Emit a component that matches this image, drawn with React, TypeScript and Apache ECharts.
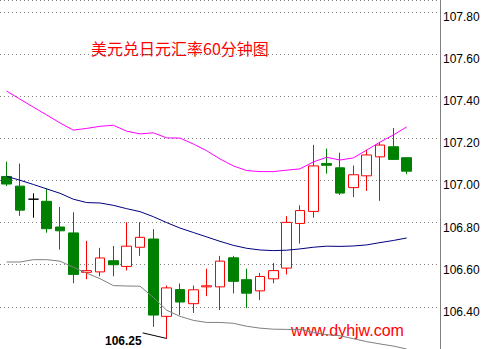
import React, { useEffect, useRef } from 'react';
import * as echarts from 'echarts';

// 31 hourly candles plus two empty slots on the right
const categories = ['K01','K02','K03','K04','K05','K06','K07','K08','K09','K10','K11','K12','K13','K14','K15','K16','K17','K18','K19','K20','K21','K22','K23','K24','K25','K26','K27','K28','K29','K30','K31','',' '];

const opens = [107.019, 106.973, 106.911, 106.901, 106.779, 106.751, 106.564, 106.566, 106.619, 106.592, 106.683, 106.722, 106.355, 106.482, 106.415, 106.495, 106.495, 106.633, 106.529, 106.476, 106.533, 106.584, 106.796, 106.853, 107.080, 107.060, 106.966, 107.022, 107.112, 107.160, 107.108];
const closes = [106.983, 106.859, 106.911, 106.771, 106.761, 106.554, 106.572, 106.632, 106.600, 106.688, 106.730, 106.361, 106.490, 106.423, 106.481, 106.500, 106.617, 106.521, 106.465, 106.544, 106.572, 106.801, 106.857, 107.069, 107.072, 106.940, 107.027, 107.121, 107.168, 107.100, 107.044];
const lows = [106.973, 106.832, 106.823, 106.752, 106.672, 106.512, 106.531, 106.545, 106.545, 106.573, 106.642, 106.305, 106.250, 106.361, 106.371, 106.451, 106.385, 106.464, 106.394, 106.432, 106.512, 106.554, 106.700, 106.823, 107.032, 106.931, 106.921, 106.950, 106.903, 107.100, 107.030];
const highs = [107.089, 107.080, 106.939, 106.961, 106.874, 106.849, 106.713, 106.680, 106.689, 106.802, 106.802, 106.769, 106.501, 106.511, 106.501, 106.581, 106.642, 106.642, 106.581, 106.561, 106.608, 106.831, 106.882, 107.169, 107.151, 107.132, 107.071, 107.146, 107.179, 107.249, 107.108];

const maMagenta = [107.424, 107.386, 107.348, 107.311, 107.273, 107.239, 107.247, 107.257, 107.262, 107.234, 107.221, 107.226, 107.202, 107.201, 107.173, 107.141, 107.102, 107.069, 107.047, 107.042, 107.042, 107.049, 107.055, 107.088, 107.110, 107.097, 107.107, 107.144, 107.182, 107.216, 107.254];
const maNavy = [107.019, 107.001, 106.981, 106.960, 106.939, 106.911, 106.895, 106.893, 106.882, 106.866, 106.852, 106.828, 106.800, 106.774, 106.753, 106.732, 106.711, 106.692, 106.678, 106.670, 106.667, 106.669, 106.675, 106.683, 106.688, 106.687, 106.689, 106.694, 106.705, 106.715, 106.727];
const maGray = [106.613, 106.613, 106.624, 106.624, 106.617, 106.588, 106.560, 106.534, 106.501, 106.499, 106.498, 106.445, 106.384, 106.355, 106.336, 106.326, 106.326, 106.322, 106.308, 106.299, 106.294, 106.293, 106.293, 106.278, 106.268, 106.263, 106.249, 106.235, 106.224, 106.214, 106.200];

const yTickLabels = ['106.40', '106.60', '106.80', '107.00', '107.20', '107.40', '107.60', '107.80'];

const titleText = '美元兑日元汇率60分钟图';
const watermarkText = 'www.dyhjw.com';

export default function App() {
  const ref = useRef<HTMLDivElement>(null);

  useEffect(() => {
    if (!ref.current) return;
    const chart = echarts.init(ref.current, null, { renderer: 'svg' });

    const candleData = opens.map((o, i) => {
      const v = [o, closes[i], lows[i], highs[i]];
      if (o === closes[i]) {
        return {
          value: v,
          itemStyle: { color: '#000', color0: '#000', borderColor: '#000', borderColor0: '#000' },
        };
      }
      return v;
    });

    const lineSeries = (data: number[], color: string) => ({
      type: 'line',
      data,
      showSymbol: false,
      symbol: 'none',
      z: 5,
      lineStyle: { color, width: 1 },
      silent: true,
    });

    chart.setOption({
      animation: false,
      backgroundColor: '#ffffff',
      grid: { left: -1.7, right: 44, top: -2, bottom: -1, containLabel: false },
      xAxis: {
        type: 'category',
        data: categories,
        boundaryGap: true,
        axisLine: { show: false },
        axisTick: { show: false },
        axisLabel: { show: false },
        splitLine: { show: false },
      },
      yAxis: {
        type: 'value',
        position: 'right',
        min: 106.2,
        max: 107.8565,
        interval: 0.2,
        axisLine: { show: true, lineStyle: { color: '#808080', width: 1 } },
        axisTick: { show: false },
        splitLine: { show: true, lineStyle: { color: '#808080', type: [1, 3], width: 1 } },
        axisLabel: {
          color: '#000',
          fontSize: 12,
          fontFamily: 'Liberation Sans, Arial, sans-serif',
          margin: 3,
          verticalAlign: 'top',
          padding: [-1, 0, 0, 0],
          formatter: (v: number) => {
            const s = v.toFixed(2);
            return yTickLabels.indexOf(s) >= 0 ? s : '';
          },
        },
      },
      series: [
        {
          type: 'candlestick',
          data: candleData,
          barWidth: 10,
          z: 3,
          itemStyle: {
            color: '#ffffff',
            color0: '#008000',
            borderColor: '#ff0000',
            borderColor0: '#008000',
            borderWidth: 1,
          },
        },
        lineSeries(maMagenta, '#ff00ff'),
        lineSeries(maNavy, '#000080'),
        lineSeries(maGray, '#808080'),
      ],
      graphic: [
        {
          id: 'title',
          type: 'text',
          x: 91,
          y: 48,
          style: {
            text: titleText,
            fill: '#ff0000',
            font: '16px "Noto Sans CJK SC", sans-serif',
            verticalAlign: 'middle',
          },
        },
        {
          id: 'watermark',
          type: 'text',
          x: 291,
          y: 330,
          style: {
            text: watermarkText,
            fill: '#ff0000',
            font: '16px "Liberation Sans", Arial, sans-serif',
            verticalAlign: 'middle',
          },
        },
      ],
    });

    // low-point annotation derived from the data
    let lowIdx = 0;
    lows.forEach((l, i) => {
      if (l < lows[lowIdx]) lowIdx = i;
    });
    const lowVal = lows[lowIdx];
    const p = chart.convertToPixel({ gridIndex: 0 }, [lowIdx, lowVal]) as number[];
    if (p && isFinite(p[0])) {
      chart.setOption({
        graphic: [
          {
            id: 'lowLine',
            type: 'line',
            shape: { x1: p[0] - 24, y1: p[1] - 5.6, x2: p[0], y2: p[1] },
            style: { stroke: '#000', lineWidth: 1 },
            z: 10,
          },
          {
            id: 'lowText',
            type: 'text',
            x: p[0] - 25,
            y: p[1] + 3,
            z: 10,
            style: {
              text: lowVal.toFixed(2),
              fill: '#000',
              font: 'bold 12px "Liberation Sans", Arial, sans-serif',
              align: 'right',
              verticalAlign: 'middle',
            },
          },
        ],
      });
    }

    return () => chart.dispose();
  }, []);

  return (
    <div
      ref={ref}
      style={{ position: 'absolute', left: 0, top: 0, width: 484, height: 349 }}
    />
  );
}
